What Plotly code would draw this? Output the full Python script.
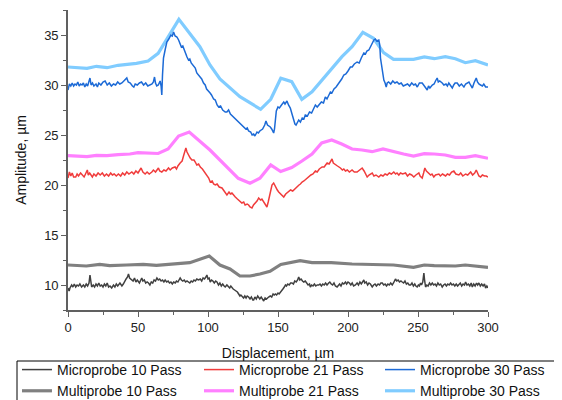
import plotly.graph_objects as go

# ---------------- data ----------------
micro10_x = [0, 0.8, 1.4, 2.6, 3.5, 4.5, 5.5, 6.5, 7.5, 8.5, 9.7, 11, 12, 13, 14, 15, 15.7, 16.3, 16.9, 18, 19, 20, 21, 22, 23, 24, 25, 26, 27, 28, 29, 30, 31.2, 32.5, 33.5, 34.5, 35.5, 37.1, 38.5, 39.5, 40.5, 41.5, 42.5, 43.2, 44, 45, 45.6, 46.5, 47.5, 48.5, 49.5, 51, 52, 52.7, 53.5, 54.5, 55.5, 56.5, 57.5, 58.5, 59.5, 60.5, 61.5, 62.5, 63.5, 64.5, 65.5, 66.5, 67.5, 68.5, 69.4, 70.5, 71.5, 72.5, 73.5, 74.5, 75.5, 76.6, 77.5, 78.5, 79.3, 80.1, 81, 82, 83, 84, 85, 86.1, 87, 88, 89, 90, 91, 92, 93.2, 94.5, 95.5, 96.5, 97.5, 98.5, 99.2, 100, 100.8, 101.6, 102.5, 103.5, 104.5, 105.5, 106.4, 107.5, 108.5, 109.5, 110.5, 111.5, 112.3, 113.5, 114.5, 115.5, 116.3, 117.1, 118, 119, 120, 121, 121.9, 122.8, 123.5, 124.5, 125.4, 126.3, 127.2, 128, 129, 130, 131, 132, 132.6, 133.5, 134.5, 135.5, 136.2, 137, 138, 139, 139.8, 140.8, 141.8, 143.3, 144.5, 145.5, 146.5, 147.3, 148.1, 149, 150, 150.8, 151.7, 152.5, 153.5, 154.5, 155.3, 156, 157, 158, 159, 160, 161, 162, 163, 164, 164.8, 165.6, 166.5, 167.5, 168.4, 169.5, 170.5, 171.5, 172.5, 173.1, 174, 175, 176, 177, 178, 179.1, 180, 181, 182, 183, 184, 185, 186.2, 187, 188, 189, 190, 191, 192.2, 193, 194, 195, 196, 197, 198.2, 199, 200, 201, 202, 203, 204, 205.3, 206.5, 207.5, 208.5, 209.5, 210.5, 211.3, 212, 213, 214, 215, 216, 217.3, 218.3, 219.3, 220.3, 221.5, 222.5, 223.5, 224.5, 225.5, 226.5, 227.5, 228.5, 229.5, 230.5, 231.6, 232.5, 233.2, 233.9, 234.8, 235.8, 236.8, 237.8, 238.7, 239.7, 240.7, 241.7, 242.7, 243.7, 244.7, 245.7, 246.7, 247.7, 248.5, 249.4, 250.3, 251, 251.8, 252.5, 253.4, 253.9, 254.2, 254.7, 255.4, 256.3, 257.2, 258.2, 259.2, 260.2, 261.2, 262.2, 263.2, 264.2, 265.2, 266.2, 267.3, 268.3, 269.3, 270.3, 271.3, 272.3, 273.3, 274.3, 275.3, 276.3, 277.3, 278.3, 279.2, 280.2, 281.2, 282.2, 283.2, 284, 285, 286, 287, 288, 288.8, 289.8, 290.8, 291.8, 292.6, 293.5, 294.5, 295.5, 296.5, 297.5, 298.3, 299.2, 300]
micro10_y = [9.7, 9.4, 9.7, 10.0, 9.8, 10.1, 9.8, 10.0, 9.9, 10.1, 9.8, 10.0, 9.8, 10.1, 9.9, 10.2, 11.0, 10.1, 9.8, 10.0, 9.8, 10.1, 9.9, 10.2, 9.9, 10.0, 9.8, 10.1, 9.9, 10.2, 9.8, 9.9, 9.7, 10.0, 9.8, 10.1, 9.9, 10.2, 9.9, 10.1, 10.4, 10.6, 10.8, 11.1, 10.7, 10.6, 10.5, 10.4, 10.7, 10.3, 10.5, 10.2, 10.5, 10.7, 10.4, 10.5, 10.2, 10.3, 10.2, 10.0, 10.3, 10.2, 10.5, 10.4, 10.7, 10.5, 10.6, 10.4, 10.5, 10.3, 10.5, 10.3, 10.4, 10.2, 10.3, 10.1, 10.3, 10.2, 10.4, 10.3, 10.5, 10.7, 10.5, 10.4, 10.5, 10.3, 10.4, 10.3, 10.2, 10.4, 10.3, 10.5, 10.4, 10.6, 10.5, 10.6, 10.4, 10.7, 10.6, 10.8, 11.0, 10.6, 10.7, 10.3, 10.5, 10.4, 10.2, 10.4, 10.3, 10.0, 10.2, 9.9, 10.1, 9.9, 9.8, 10.0, 9.8, 9.7, 9.9, 9.7, 9.6, 9.5, 9.4, 9.3, 9.1, 8.9, 9.0, 8.8, 8.7, 8.9, 8.7, 8.9, 8.8, 8.6, 8.8, 8.5, 8.5, 8.8, 8.6, 8.9, 8.7, 8.6, 8.8, 8.6, 8.4, 8.7, 8.6, 8.8, 8.9, 8.8, 9.1, 9.0, 9.1, 9.0, 9.2, 9.1, 9.3, 9.5, 9.6, 9.8, 10.0, 9.9, 10.1, 10.0, 10.2, 10.2, 10.1, 10.4, 10.3, 10.5, 10.8, 10.5, 10.6, 10.4, 10.3, 10.4, 10.2, 10.0, 10.1, 9.8, 10.0, 9.9, 10.1, 9.9, 10.0, 10.0, 10.1, 9.9, 10.1, 10.0, 10.2, 10.0, 10.2, 10.3, 10.1, 10.0, 10.2, 9.9, 9.8, 10.0, 10.1, 9.9, 10.2, 10.1, 10.3, 10.1, 10.3, 10.2, 10.0, 10.2, 9.9, 10.0, 10.2, 10.0, 10.3, 10.1, 10.3, 10.5, 10.2, 10.3, 10.0, 10.2, 10.1, 9.8, 10.0, 10.1, 9.9, 10.1, 10.0, 10.2, 10.2, 10.0, 10.1, 9.9, 10.1, 10.0, 10.2, 10.0, 10.2, 10.4, 10.6, 10.4, 10.5, 10.3, 10.4, 10.3, 10.2, 10.4, 10.1, 10.2, 10.0, 10.0, 10.2, 9.9, 10.1, 9.9, 9.8, 10.0, 9.9, 10.2, 10.0, 10.3, 11.0, 11.2, 10.5, 9.8, 10.0, 9.9, 10.2, 10.0, 10.2, 10.0, 10.1, 9.9, 10.2, 10.0, 10.1, 9.8, 10.0, 10.1, 9.9, 10.1, 10.0, 10.2, 10.0, 10.1, 9.9, 10.1, 9.9, 10.0, 10.2, 9.9, 10.1, 10.0, 10.3, 10.0, 10.1, 9.9, 10.2, 9.8, 10.1, 9.9, 10.2, 10.0, 10.2, 9.9, 10.1, 9.9, 10.1, 9.7, 9.9, 9.7]

micro21_x = [0, 1, 2, 3, 4, 5.5, 6.5, 7.5, 9, 10.2, 11.5, 12.5, 13.8, 14.5, 15.5, 17.4, 18.5, 20, 21.5, 23, 24.5, 26, 27.5, 29, 30.5, 31.7, 33, 34.5, 36, 37.6, 39, 40.5, 42, 43.5, 45.6, 47, 48.5, 50, 51, 52.2, 53.5, 55.1, 56.5, 58, 59.9, 61, 62.5, 64.6, 65.5, 67, 68.5, 70, 71.8, 73, 74.5, 76.5, 77.5, 78.5, 80.1, 81.5, 82.5, 83.5, 84.2, 85, 86, 87.3, 88.5, 90, 90.9, 92, 93.3, 94.5, 96, 97, 98, 99.5, 100.5, 101.6, 103, 104, 105.2, 106.5, 108, 110, 111.5, 112.5, 113.5, 115, 116, 117.1, 118.5, 119.5, 121, 122.5, 124.2, 125.5, 126.5, 128, 129, 130, 131.4, 132.5, 133.8, 135, 136.2, 137.5, 138.5, 139.8, 141, 142.1, 143, 144.5, 145.7, 146.9, 148.1, 149.5, 150.5, 152, 153, 154.1, 155.5, 156.5, 157.7, 159, 160.5, 162.4, 163.5, 165, 166, 167.2, 168.5, 170, 171, 172, 173.5, 175, 176.7, 178, 179.5, 181.5, 183, 184, 185.1, 186.5, 187.5, 188.6, 189.5, 191, 192.5, 194.6, 196, 197, 198.2, 199.5, 201, 202.9, 204.5, 206.5, 208, 210.1, 211.5, 212.5, 213.7, 215, 216, 217.3, 218.5, 220, 222, 223.5, 225, 226.5, 228, 229.5, 231, 232.7, 234, 235, 236.3, 237.5, 239, 241.1, 242.5, 244, 245.5, 247, 248.5, 250.6, 251.5, 253, 254, 254.9, 256, 257.7, 259, 260, 261.3, 262.5, 264.9, 266, 267.5, 269.7, 271, 272.5, 274, 275.6, 277, 279.2, 280.5, 282, 284, 285.5, 287.6, 289, 290.5, 291.6, 292.5, 293.5, 294.7, 296, 297.5, 298.8, 300]
micro21_y = [20.7, 21.3, 20.9, 21.2, 20.8, 20.8, 21.1, 20.9, 21.2, 21.0, 20.8, 21.1, 21.5, 21.0, 21.2, 20.8, 21.1, 20.9, 21.2, 21.0, 21.2, 20.9, 21.1, 20.9, 21.2, 21.0, 21.1, 20.9, 21.1, 20.9, 21.2, 21.0, 21.3, 21.1, 21.3, 21.1, 21.4, 21.2, 21.4, 21.7, 21.3, 21.1, 21.3, 21.1, 21.3, 21.5, 21.3, 21.7, 21.4, 21.3, 21.5, 21.4, 21.7, 21.5, 21.7, 21.8, 21.6, 21.9, 22.2, 22.4, 22.9, 23.5, 23.7, 23.3, 23.0, 22.7, 22.5, 22.5, 22.3, 22.0, 22.1, 21.8, 21.6, 21.4, 21.2, 20.9, 20.7, 20.3, 20.4, 20.1, 20.0, 20.1, 19.8, 19.7, 19.4, 19.2, 19.0, 19.3, 19.1, 19.2, 18.9, 18.8, 18.6, 18.4, 18.2, 18.3, 18.0, 18.1, 18.0, 17.8, 17.7, 18.0, 18.2, 18.4, 18.7, 18.5, 18.6, 18.3, 18.1, 17.8, 18.3, 19.3, 20.0, 20.2, 19.8, 19.5, 19.3, 19.1, 18.9, 18.8, 19.1, 19.2, 19.3, 19.5, 19.4, 19.7, 19.8, 20.0, 20.1, 20.3, 20.4, 20.6, 20.7, 20.8, 21.0, 21.1, 21.4, 21.3, 21.6, 21.8, 21.8, 22.0, 22.2, 22.1, 22.4, 22.6, 22.2, 22.0, 21.9, 21.7, 21.5, 21.6, 21.4, 21.5, 21.3, 21.5, 21.3, 21.3, 21.5, 21.7, 21.4, 21.1, 20.8, 21.0, 21.1, 21.2, 20.9, 21.0, 20.8, 21.0, 20.9, 21.1, 21.0, 21.2, 21.1, 21.3, 21.1, 21.2, 21.0, 21.2, 21.1, 21.2, 20.9, 21.1, 21.0, 20.8, 21.0, 21.2, 20.9, 20.7, 21.2, 21.7, 21.4, 21.2, 21.0, 21.1, 20.8, 21.0, 21.1, 20.9, 21.1, 20.9, 21.1, 21.0, 21.3, 21.4, 21.1, 21.0, 21.2, 20.9, 21.1, 21.0, 21.3, 21.0, 21.2, 21.5, 21.1, 20.9, 20.8, 21.0, 20.9, 20.9, 20.8]

micro30_x = [0, 1, 2, 3, 4, 5, 6, 7, 8, 9, 10, 11, 12, 13, 14, 15, 15.7, 16.5, 17.5, 18.5, 20, 21, 22, 23.5, 25, 26.5, 28, 29.5, 31, 32.5, 34, 35.5, 37, 38.5, 40, 41, 42, 43, 44.5, 46, 47, 48, 49.5, 51, 52.5, 54, 55.5, 57, 58.5, 60, 61, 61.8, 62.5, 63.4, 64.5, 65.8, 66.5, 67, 67.5, 68.2, 69.5, 70.6, 72, 73.5, 74.5, 75.4, 76.5, 77.8, 79, 80.1, 81, 82, 83, 83.7, 85, 86.1, 87, 88, 89.5, 90.9, 92, 93.3, 94.5, 95.5, 96.8, 98, 99, 100.4, 101.5, 102.5, 104, 105.2, 106.5, 107.6, 109, 110.5, 112.3, 113.5, 114.7, 116, 117.5, 119.5, 121, 122.5, 124.2, 125.5, 127, 128, 129, 130.5, 131.5, 132.6, 133.5, 135, 136, 137, 138, 139, 140.5, 141.4, 142.5, 143.5, 144.5, 145.5, 146.9, 147.5, 148.8, 150, 151, 152.5, 154.1, 155, 156.4, 157.5, 158.8, 160, 161.2, 162.1, 162.9, 164, 164.8, 166, 167.3, 168.5, 169.5, 171, 172.5, 174, 175.5, 176.7, 178, 179.5, 181, 182.5, 183.8, 185, 186.2, 187.4, 188.5, 190, 191.5, 193.4, 194.5, 195.5, 197, 198.5, 200, 201.7, 203, 204.5, 206.5, 208, 209.5, 211.3, 212.5, 213.5, 214.9, 216, 217.3, 218.5, 219.5, 220.5, 222, 222.7, 223.2, 224.5, 225.6, 226.5, 227.3, 228, 229, 230.5, 232, 233.5, 235, 236.5, 238, 239.5, 241, 242.5, 244, 245.5, 247, 248.2, 249.5, 251, 253, 254.5, 255.5, 256.6, 257.5, 258.5, 260.2, 261.5, 262.5, 263.7, 264.5, 265.5, 267.3, 268.5, 270, 271, 272, 273.2, 274.5, 275.5, 276.5, 278, 279.5, 281, 282.8, 284, 285.3, 286.4, 287.5, 288.8, 290, 291.6, 292.5, 293.5, 294.7, 296, 297, 298.3, 300]
micro30_y = [29.5, 30.1, 29.9, 30.2, 29.9, 30.1, 30.0, 30.3, 29.9, 30.1, 30.0, 30.2, 29.8, 30.1, 29.9, 30.4, 30.7, 30.0, 30.2, 29.9, 30.1, 29.8, 30.2, 30.0, 30.3, 30.4, 30.0, 30.2, 29.9, 30.1, 30.0, 30.3, 30.1, 30.2, 30.4, 30.5, 30.7, 30.3, 30.2, 29.9, 29.8, 30.1, 30.0, 30.2, 30.3, 30.0, 30.2, 29.9, 30.0, 30.1, 30.3, 30.8, 30.2, 29.9, 30.0, 30.4, 29.9, 29.0, 31.0, 32.7, 33.6, 34.3, 34.6, 35.0, 34.9, 35.3, 34.9, 34.8, 34.5, 34.2, 33.8, 33.9, 33.5, 33.3, 32.8, 32.5, 32.6, 32.2, 31.9, 31.7, 31.2, 31.0, 30.8, 30.6, 30.2, 30.0, 29.6, 29.3, 29.2, 29.0, 28.6, 28.5, 28.0, 27.8, 27.9, 27.5, 27.3, 27.3, 27.5, 27.1, 26.9, 26.7, 26.4, 26.3, 26.0, 25.9, 25.6, 25.7, 25.4, 25.3, 25.0, 25.1, 24.9, 25.3, 25.2, 25.4, 25.5, 25.6, 26.0, 26.4, 26.0, 25.9, 25.8, 25.6, 25.2, 25.6, 27.4, 27.8, 27.7, 28.0, 28.3, 28.1, 28.4, 28.0, 27.7, 27.1, 26.4, 26.1, 26.0, 26.4, 26.5, 26.3, 26.7, 26.6, 27.0, 26.9, 27.3, 27.2, 27.6, 28.0, 27.8, 28.1, 28.3, 28.2, 28.8, 28.6, 29.0, 29.3, 29.2, 29.6, 29.8, 30.2, 30.3, 30.6, 31.0, 31.1, 31.4, 31.8, 31.8, 32.1, 32.3, 32.2, 32.7, 33.2, 33.1, 33.4, 33.5, 33.8, 34.2, 34.5, 34.6, 34.4, 34.5, 34.0, 32.7, 31.2, 30.5, 30.2, 29.8, 30.2, 30.3, 30.1, 30.4, 30.2, 30.3, 30.1, 30.2, 29.9, 30.0, 30.1, 29.9, 30.2, 30.0, 30.1, 29.8, 30.2, 30.2, 29.9, 29.7, 29.5, 29.9, 29.7, 30.0, 30.1, 30.4, 30.7, 30.3, 30.4, 30.2, 30.0, 30.1, 29.9, 30.2, 30.0, 29.7, 30.0, 30.2, 30.2, 29.9, 30.1, 29.8, 30.1, 30.2, 30.3, 30.0, 29.7, 30.2, 30.7, 30.3, 30.1, 30.0, 29.9, 30.1, 29.8, 29.8]

multi10_x = [0, 13.1, 22.7, 29.8, 41.8, 53.7, 63.2, 77.5, 87.0, 94.2, 100.9, 108.5, 115.7, 122.8, 130, 137.1, 144.3, 152.0, 159.8, 165.8, 174.3, 188, 202.9, 218.2, 232.5, 246.8, 254.5, 261.6, 276.7, 283.8, 291, 300]
multi10_y = [12.0, 11.9, 12.07, 11.93, 12.0, 12.07, 11.97, 12.1, 12.23, 12.57, 12.9, 12.0, 11.6, 10.9, 10.9, 11.1, 11.37, 12.05, 12.3, 12.43, 12.23, 12.23, 12.1, 12.07, 12.0, 11.77, 12.0, 11.93, 11.9, 12.0, 11.93, 11.77]

multi21_x = [0, 13.6, 20.3, 27.9, 35.8, 44.2, 50.0, 58.5, 64.4, 71.5, 79.0, 86.6, 101.4, 121.6, 130, 137.1, 144.8, 151.9, 159.8, 167.1, 174.3, 181.2, 188.4, 195.5, 202.9, 210.0, 217.2, 225.0, 232.5, 239.7, 246.8, 254.5, 261.6, 269.5, 276.7, 283.8, 291.0, 300]
multi21_y = [22.93, 22.83, 22.97, 22.93, 23.03, 23.1, 23.23, 23.17, 23.15, 23.6, 24.9, 25.3, 23.5, 20.67, 20.17, 20.67, 22.0, 21.35, 21.75, 22.4, 23.1, 24.2, 24.5, 24.1, 23.6, 23.5, 23.33, 23.6, 23.33, 23.1, 22.9, 23.13, 23.1, 23.0, 22.77, 22.77, 22.93, 22.67]

multi30_x = [0, 13.6, 20.3, 27.9, 35.8, 48.9, 57.2, 64.4, 79.2, 94.2, 101.4, 108.5, 122.8, 137.6, 144.8, 152.0, 159.8, 167.0, 174.3, 195.7, 202.9, 210.6, 218.2, 225.4, 232.5, 246.8, 254.5, 261.6, 269.5, 276.7, 283.8, 291.0, 300]
multi30_y = [31.8, 31.67, 31.87, 31.73, 31.97, 32.17, 32.4, 33.17, 36.57, 33.83, 32.0, 30.6, 28.83, 27.57, 28.57, 30.67, 30.33, 28.57, 29.33, 32.83, 33.83, 35.27, 34.67, 33.23, 32.57, 32.57, 32.8, 32.63, 32.83, 32.63, 32.23, 32.43, 32.0]

x_ticks = [0, 50, 100, 150, 200, 250, 300]
y_ticks = [10, 15, 20, 25, 30, 35]

FONT = "Liberation Sans, Arial, sans-serif"

series = [
    # name, x, y, colour, width, legend column, rank
    ("Multiprobe 10 Pass", multi10_x, multi10_y, "#808080", 3.2, "legend", 2),
    ("Multiprobe 21 Pass", multi21_x, multi21_y, "#ff80ff", 3.2, "legend2", 2),
    ("Multiprobe 30 Pass", multi30_x, multi30_y, "#80ccff", 3.2, "legend3", 2),
    ("Microprobe 10 Pass", micro10_x, micro10_y, "#404040", 1.5, "legend", 1),
    ("Microprobe 21 Pass", micro21_x, micro21_y, "#f03c3c", 1.5, "legend2", 1),
    ("Microprobe 30 Pass", micro30_x, micro30_y, "#1c6ad6", 1.5, "legend3", 1),
]

fig = go.Figure()
for name, xs, ys, col, w, leg, rank in series:
    fig.add_trace(go.Scatter(x=xs, y=ys, mode="lines", name=name,
                             line=dict(color=col, width=w), legend=leg, legendrank=rank))

axis_common = dict(
    showgrid=False, zeroline=False, showline=True, linecolor="#606060", linewidth=1.6,
    ticks="outside", ticklen=5, tickwidth=1.2, tickcolor="#606060",
    tickfont=dict(family=FONT, size=13, color="#222222"),
    minor=dict(ticks="outside", ticklen=3, tickwidth=1.2, tickcolor="#606060"),
    mirror=False,
)

leg_common = dict(orientation="v", yanchor="top", xanchor="left", y=-0.1466,
                  bgcolor="rgba(0,0,0,0)", borderwidth=0,
                  font=dict(family=FONT, size=14, color="#111111"),
                  tracegroupgap=0, itemwidth=30)

# the page body adds an 8 px offset, so the figure is sized to fit the window
fig.update_layout(
    width=554, height=392,
    margin=dict(l=60, r=74, t=2, b=90, autoexpand=False),
    paper_bgcolor="white", plot_bgcolor="white",
    font=dict(family=FONT, size=14, color="#111111"),
    xaxis=dict(range=[0, 300], tickvals=x_ticks, minor_dtick=25,
               title=dict(text="Displacement, µm", font=dict(family=FONT, size=14), standoff=14),
               **axis_common),
    yaxis=dict(range=[7.5, 37.5], tickvals=y_ticks, minor_dtick=2.5,
               title=dict(text="Amplitude, µm", font=dict(family=FONT, size=14), standoff=14),
               **axis_common),
    legend=dict(x=-0.1215, **leg_common),
    legend2=dict(x=0.3119, **leg_common),
    legend3=dict(x=0.7428, **leg_common),
    shapes=[dict(type="rect", xref="paper", yref="paper",
                 x0=-0.1214, x1=1.1667, y0=-0.3067, y1=-0.17,
                 line=dict(color="#000000", width=1), fillcolor="rgba(0,0,0,0)",
                 layer="above")],
    showlegend=True,
)

fig.write_html("out.html")
